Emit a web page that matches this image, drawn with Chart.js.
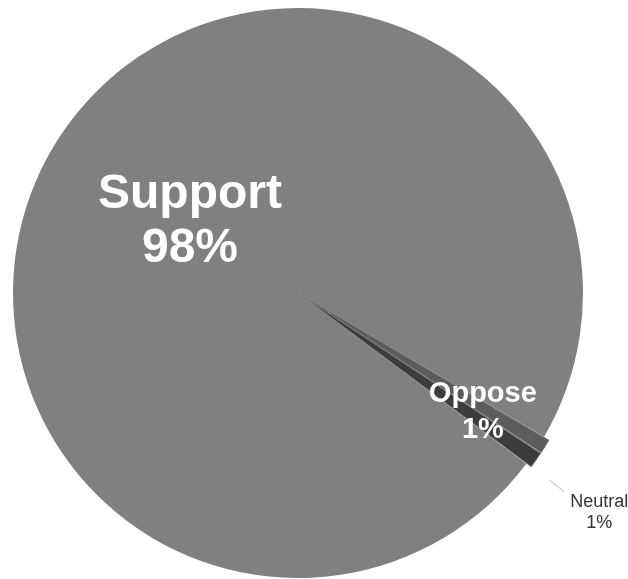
<!DOCTYPE html>
<html>
<head>
<meta charset="utf-8">
<script src="https://cdn.jsdelivr.net/npm/chart.js@4/dist/chart.umd.min.js"></script>
<style>
  html, body { margin: 0; padding: 0; background: #fff; }
  #wrap { width: 628px; height: 579px; }
</style>
</head>
<body>
<div id="wrap"><canvas id="pie"></canvas></div>
<script>
// data (wedges are thin, just under 1% each)
const categories = ["Oppose", "Neutral", "Support"];
const shares = [0.85, 0.95, 98.2];
const shownPct = ["1%", "1%", "98%"];
const sliceColors = ["#5c5c5c", "#3c3c3c", "#7f807f"];

// where each label sits: angle (deg, clockwise from 3 o'clock), distance as fraction of radius
const labelAngle = [34.5, 36.7, -151.8];
const labelDist = [0.787, 1.318, 0.43];

const labelPlugin = {
  id: "pieLabels",
  afterDatasetsDraw(chart) {
    const ctx = chart.ctx;
    const arcs = chart.getDatasetMeta(0).data;
    arcs.forEach((arc, i) => {
      const r = arc.outerRadius;
      const a = labelAngle[i] * Math.PI / 180;
      const x = arc.x + Math.cos(a) * r * labelDist[i];
      const y = arc.y + Math.sin(a) * r * labelDist[i];
      ctx.save();
      ctx.textAlign = "center";
      ctx.textBaseline = "alphabetic";
      if (categories[i] === "Support") {
        ctx.fillStyle = "#ffffff";
        ctx.font = "bold 48px 'Liberation Sans', Arial, sans-serif";
        ctx.fillText(categories[i], x, y - 27);
        ctx.fillText(shownPct[i], x, y + 27);
      } else if (categories[i] === "Oppose") {
        ctx.fillStyle = "#ffffff";
        ctx.font = "bold 29px 'Liberation Sans', Arial, sans-serif";
        ctx.fillText(categories[i], x, y - 18);
        ctx.fillText(shownPct[i], x, y + 18);
      } else {
        // outside label with a short leader line
        ctx.strokeStyle = "#b5b5b5";
        ctx.lineWidth = 1;
        ctx.beginPath();
        ctx.moveTo(arc.x + Math.cos(a) * r * 1.10, arc.y + Math.sin(a) * r * 1.10);
        ctx.lineTo(arc.x + Math.cos(a) * r * 1.165, arc.y + Math.sin(a) * r * 1.165);
        ctx.stroke();
        ctx.fillStyle = "#333333";
        ctx.font = "18px 'Liberation Sans', Arial, sans-serif";
        ctx.fillText(categories[i], x, y - 10);
        ctx.fillText(shownPct[i], x, y + 11);
      }
      ctx.restore();
    });
  }
};

new Chart(document.getElementById("pie"), {
  type: "pie",
  data: {
    labels: categories,
    datasets: [{
      data: shares,
      backgroundColor: sliceColors,
      borderColor: "#767676",
      borderWidth: [1, 1, 0],
      offset: [12, 12, 0]
    }]
  },
  options: {
    responsive: true,
    maintainAspectRatio: false,
    animation: false,
    rotation: 120.3,
    radius: 285,
    layout: { padding: { left: 0, right: 32, top: 7, bottom: 0 } },
    plugins: {
      legend: { display: false },
      tooltip: { enabled: false }
    }
  },
  plugins: [labelPlugin]
});
</script>
</body>
</html>
